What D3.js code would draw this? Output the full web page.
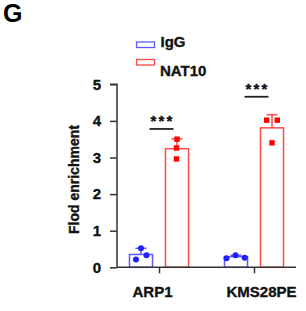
<!DOCTYPE html>
<html><head><meta charset="utf-8">
<script src="https://cdn.jsdelivr.net/npm/d3@7"></script>
<style>body{margin:0;background:#fff}svg{display:block;font-family:"Liberation Sans",Arial,sans-serif}
.t{paint-order:stroke;stroke:#111;stroke-width:0.35px}</style>
</head><body><svg id="c" width="306" height="311"></svg>
<script>
const categories = ["ARP1", "KMS28PE"];
const series = ["IgG", "NAT10"];
const meanIgG = [0.35, 0.29];
const meanNAT10 = [3.24, 3.81];
const sdIgG = [0.17, 0.04];
const sdNAT10 = [0.27, 0.36];
const pointsIgG = [[0.21, 0.52, 0.33], [0.25, 0.33, 0.26]];
const pointsNAT10 = [[3.50, 3.26, 2.96], [4.02, 4.02, 3.40]];
const yTicks = [0, 1, 2, 3, 4, 5];
const sigLabels = ["***", "***"];
const sigHeights = [3.78, 4.66];

const svg = d3.select("#c");
const colors = {IgG: {stroke: "#5a5aff", fill: "#2020ff"}, NAT10: {stroke: "#ff4a4a", fill: "#ff0000"}};
const x = d3.scalePoint().domain(categories).range([117, 296]).padding(0.442);
const xs = d3.scaleBand().domain(series).range([-36, 36]).paddingInner(0.36).paddingOuter(0.18);
const y = d3.scaleLinear().domain([0, 5]).range([267.3, 84.3]);

const means = {IgG: meanIgG, NAT10: meanNAT10};
const sds = {IgG: sdIgG, NAT10: sdNAT10};
const pts = {IgG: pointsIgG, NAT10: pointsNAT10};
const jitter = {IgG: [[-5, 0, 5.5], [-9.5, -0.5, 8.7]], NAT10: [[0, -0.5, -0.5], [-5.3, 5.3, 0]]};

// bars
series.forEach(s => {
  categories.forEach((c, i) => {
    const cx = x(c) + xs(s) + xs.bandwidth() / 2;
    const top = y(means[s][i]);
    svg.append("rect")
      .attr("x", x(c) + xs(s)).attr("y", top)
      .attr("width", xs.bandwidth()).attr("height", y(0) - top)
      .attr("fill", "none").attr("stroke", colors[s].stroke).attr("stroke-width", 1.5);
    const et = y(means[s][i] + sds[s][i]);
    svg.append("line").attr("x1", cx).attr("x2", cx).attr("y1", top).attr("y2", et)
      .attr("stroke", colors[s].stroke).attr("stroke-width", 1.5);
    svg.append("line").attr("x1", cx - 5.5).attr("x2", cx + 5.5).attr("y1", et).attr("y2", et)
      .attr("stroke", colors[s].stroke).attr("stroke-width", 1.5);
    pts[s][i].forEach((v, k) => {
      const px = cx + jitter[s][i][k];
      if (s === "IgG") {
        svg.append("circle").attr("cx", px).attr("cy", y(v)).attr("r", 3).attr("fill", colors[s].fill);
      } else {
        svg.append("rect").attr("x", px - 2.7).attr("y", y(v) - 2.7).attr("width", 5.4).attr("height", 5.4).attr("fill", colors[s].fill);
      }
    });
  });
});

// axes
const yAxis = svg.append("g").attr("transform", "translate(117,0)")
  .call(d3.axisLeft(y).tickValues(yTicks).tickFormat(d3.format("d")).tickSize(7).tickPadding(9));
const xAxis = svg.append("g").attr("transform", `translate(0,${y(0)})`)
  .call(d3.axisBottom(x).tickSize(6).tickPadding(13).tickSizeOuter(0));
xAxis.select(".domain").attr("d", "M117,0H296");
[yAxis, xAxis].forEach(g => {
  g.selectAll(".domain, line").attr("stroke", "#333").attr("stroke-width", 1.5);
  g.selectAll("text").attr("fill", "#111").attr("font-weight", "bold").attr("font-size", 15)
    .attr("class", "t").attr("font-family", '"Liberation Sans",Arial,sans-serif');
});
yAxis.select(".domain").attr("d", "M-7,84.3H0V267.3");
xAxis.selectAll("text").attr("dx", (d, i) => i === 0 ? -7 : 7);

// y label
svg.append("text").attr("class", "t").attr("transform", "translate(78.5,179.5) rotate(-90)")
  .attr("text-anchor", "middle").attr("font-weight", "bold").attr("font-size", 14).attr("fill", "#111")
  .text("Flod enrichment");

// significance
categories.forEach((c, i) => {
  const cx = x(c) + 2.5;
  const ly = y(sigHeights[i]);
  svg.append("line").attr("x1", cx - 12).attr("x2", cx + 12).attr("y1", ly).attr("y2", ly)
    .attr("stroke", "#222").attr("stroke-width", 1.8);
  svg.append("text").attr("class", "t").attr("x", cx + 1).attr("y", ly - 2.5).attr("text-anchor", "middle")
    .attr("font-weight", "bold").attr("font-size", 15).attr("letter-spacing", 2.2).attr("fill", "#111").text(sigLabels[i]);
});

// legend
series.forEach((s, i) => {
  svg.append("rect").attr("x", 136.5).attr("y", 42 + i * 17.5).attr("width", 18).attr("height", 5.5)
    .attr("fill", "none").attr("stroke", colors[s].stroke).attr("stroke-width", 1.3);
});
svg.append("text").attr("class", "t").attr("x", 160.5).attr("y", 46.5).attr("font-weight", "bold").attr("font-size", 15).attr("fill", "#111").text("IgG");
svg.append("text").attr("class", "t").attr("x", 160).attr("y", 76).attr("font-weight", "bold").attr("font-size", 15).attr("fill", "#111").text("NAT10");

// panel letter
svg.append("text").attr("x", 3).attr("y", 21.7).attr("font-weight", "bold").attr("font-size", 25).attr("fill", "#000").text("G");
</script></body></html>
